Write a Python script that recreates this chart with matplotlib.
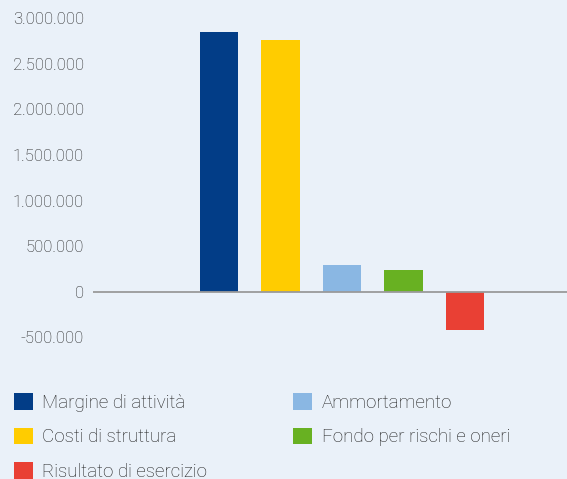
import matplotlib.pyplot as plt
from matplotlib.patches import Patch
from matplotlib.ticker import FuncFormatter

plt.rcParams['font.family'] = ['Roboto', 'DejaVu Sans']
plt.rcParams['font.weight'] = 'light'

# Dati
categorie = ['Margine di attività', 'Costi di struttura', 'Ammortamento',
             'Fondo per rischi e oneri', 'Risultato di esercizio']
valori = [2855000, 2765000, 293000, 238000, -421000]
colori = ['#023d87', '#ffcc00', '#8ab7e3', '#68b122', '#e94034']
yticks = [-500000, 0, 500000, 1000000, 1500000, 2000000, 2500000, 3000000]

bg = '#eaf1f9'
testo = '#1e1e1e'
fig = plt.figure(figsize=(5.67, 4.79), dpi=100, facecolor=bg)
ax = fig.add_axes([93 / 567, 124 / 479, 474 / 567, 347 / 479], facecolor=bg)

x = list(range(len(valori)))
ax.bar(x, valori, width=0.62, color=colori, zorder=2)
ax.axhline(0, color='#9a9a9a', lw=1.3, zorder=3)

ax.set_xlim(-2.05, 5.66)
ax.set_ylim(-695000, 3114000)
ax.set_yticks(yticks)
ax.yaxis.set_major_formatter(FuncFormatter(lambda v, p: f'{int(v):,}'.replace(',', '.')))
ax.set_xticks([])
ax.tick_params(axis='y', length=0, pad=6.5, labelsize=12, labelcolor=testo)
for s in ax.spines.values():
    s.set_visible(False)

# Legenda: prima colonna Margine, Costi, Risultato; seconda Ammortamento, Fondo
ordine = [0, 1, 4, 2, 3]
handles = [Patch(facecolor=colori[i], label=categorie[i]) for i in ordine]
fig.legend(handles=handles, loc='upper left', bbox_to_anchor=(14 / 567, 1 - 393 / 479),
           ncol=2, frameon=False, fontsize=13.5, borderpad=0, borderaxespad=0,
           handlelength=1.0, handleheight=1.0, handletextpad=0.5,
           labelspacing=0.84, columnspacing=4.6, labelcolor=testo)

fig.savefig('out.png', dpi=100, facecolor=bg)
